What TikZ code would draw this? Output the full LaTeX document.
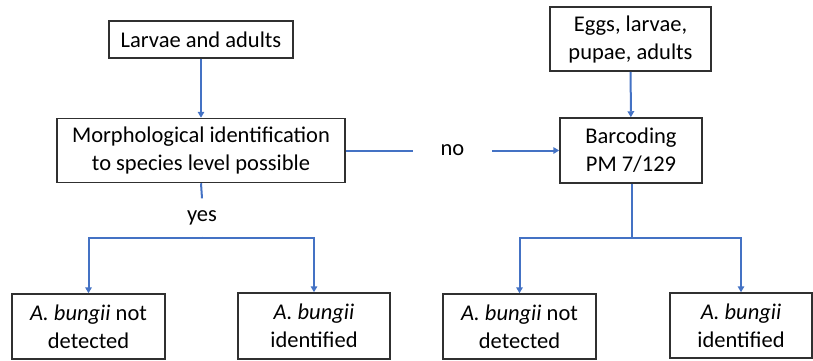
\documentclass[tikz,border=0pt]{standalone}
\usepackage{fontspec}
\setmainfont{Carlito}
\usetikzlibrary{arrows.meta}
\definecolor{lineblue}{HTML}{4472C4}
\definecolor{boxgray}{HTML}{303030}
\tikzset{
  box/.style={draw=boxgray, line width=1.5pt, align=center, inner sep=0pt,
    font=\fontsize{22.5}{28}\selectfont},
  lbl/.style={inner sep=0pt, font=\fontsize{22.5}{28}\selectfont},
  conn/.style={draw=lineblue, line width=2pt},
  arr/.style={conn, -{Triangle[length=6pt,width=6.5pt]}}
}
\begin{document}
\begin{tikzpicture}[x=1pt,y=-1pt]
\useasboundingbox (0,0) rectangle (813,360);
\node[box, minimum width=184, minimum height=37] (larv) at (201,39.5) {Larvae and adults};
\node[box, minimum width=288, minimum height=64] (morph) at (201,150.5) {Morphological identification\\to species level possible};
\node[box, minimum width=161, minimum height=64] (eggs) at (630.5,39) {Eggs, larvae,\\pupae, adults};
\node[box, minimum width=142, minimum height=65] (barc) at (631,150.5) {Barcoding\\PM 7/129};
\node[box, minimum width=153, minimum height=65] (bl1) at (88.5,326.5) {\textit{A. bungii} not\\detected};
\node[box, minimum width=152, minimum height=66] (bl2) at (314,326) {\textit{A. bungii}\\identified};
\node[box, minimum width=153, minimum height=65] (br1) at (519.5,326.5) {\textit{A. bungii} not\\detected};
\node[box, minimum width=142, minimum height=65] (br2) at (741,325.5) {\textit{A. bungii}\\identified};
\node[lbl, minimum width=20, minimum height=38] (yes) at (202,217.5) {yes};
\node[lbl, minimum width=79, minimum height=20] (no) at (452.5,150.5) {no};
\coordinate (jl) at (202,238);
\coordinate (jr) at (632,238);
\draw[arr] (larv) -- (morph);
\draw[arr] (eggs) -- (barc);
\draw[conn] (morph.south) -- (yes.north);
\draw[conn] (yes.south) -- (jl);
\draw[arr] (jl) -| (bl1.north);
\draw[arr] (jl) -| (bl2.north);
\draw[conn] (morph.east) -- (no.west);
\draw[arr] (no.east) -- (barc.west);
\draw[conn] (barc.south -| jr) -- (jr);
\draw[arr] (jr) -| (br1.north);
\draw[arr] (jr) -| (br2.north);
\end{tikzpicture}
\end{document}
